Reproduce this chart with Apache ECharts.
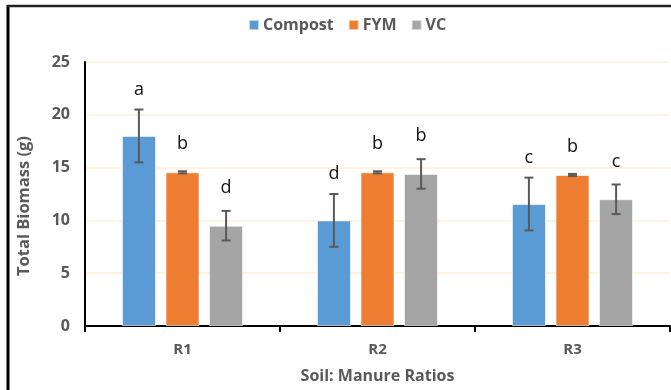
<!DOCTYPE html>
<html>
<head>
<meta charset="utf-8">
<style>
  html, body { margin: 0; padding: 0; background: #fff; }
  #chart { width: 671px; height: 390px; }
</style>
<script src="https://cdn.jsdelivr.net/npm/echarts@6/dist/echarts.min.js"></script>
</head>
<body>
<div id="chart"></div>
<script>
// Total biomass by soil:manure ratio and manure type
const categories = ['R1', 'R2', 'R3'];
const seriesNames = ['Compost', 'FYM', 'VC'];
const compost = [18.0, 10.0, 11.55];
const fym = [14.55, 14.55, 14.3];
const vc = [9.5, 14.4, 12.0];
const compostErr = [2.5, 2.5, 2.5];
const fymErr = [0.1, 0.1, 0.1];
const vcErr = [1.4, 1.4, 1.4];
const compostLetters = ['a', 'd', 'c'];
const fymLetters = ['b', 'b', 'b'];
const vcLetters = ['d', 'b', 'c'];
const yTicks = [0, 5, 10, 15, 20, 25];

const values = [compost, fym, vc];
const errors = [compostErr, fymErr, vcErr];
const letters = [compostLetters, fymLetters, vcLetters];
const colors = ['#5B9BD5', '#ED7D31', '#A5A5A5'];
const letterLift = [20, 27, 23];

const BAR_W = 34;
const BAR_STEP = 43.6;
const FONT = '"Open Sans", "Noto Sans", sans-serif';
const GREY = '#595959';

const chart = echarts.init(document.getElementById('chart'), null, { renderer: 'canvas' });

const barSeries = seriesNames.map((name, i) => ({
  name: name,
  type: 'bar',
  data: values[i],
  barWidth: BAR_W,
  barGap: '28%',
  itemStyle: { color: colors[i], borderColor: 'rgba(255,255,255,0.6)', borderWidth: 1 },
  z: 2
}));

// error bars and significance letters, placed on each bar's center
const errSeries = seriesNames.map((name, i) => ({
  name: name + ' err',
  type: 'custom',
  z: 5,
  silent: true,
  data: categories.map((c, k) => [k, values[i][k], errors[i][k]]),
  renderItem: function (params, api) {
    const k = api.value(0);
    const v = api.value(1);
    const e = api.value(2);
    const letter = letters[i][k];
    const dx = (i - 1) * BAR_STEP;
    const top = api.coord([k, v + e]);
    const bot = api.coord([k, v - e]);
    const x = top[0] + dx;
    const cap = 4.5;
    const st = { stroke: GREY, lineWidth: 2 };
    return {
      type: 'group',
      children: [
        { type: 'line', shape: { x1: x, y1: top[1], x2: x, y2: bot[1] }, style: st },
        { type: 'line', shape: { x1: x - cap, y1: top[1], x2: x + cap, y2: top[1] }, style: st },
        { type: 'line', shape: { x1: x - cap, y1: bot[1], x2: x + cap, y2: bot[1] }, style: st },
        {
          type: 'text',
          style: {
            x: x, y: top[1] - letterLift[i],
            text: letter,
            fill: '#111',
            font: '18px ' + FONT,
            align: 'center',
            verticalAlign: 'middle'
          }
        }
      ]
    };
  }
}));

const option = {
  backgroundColor: '#fff',
  animation: false,
  color: colors,
  legend: {
    data: seriesNames,
    left: 243,
    top: 12,
    itemWidth: 10,
    itemHeight: 10,
    itemGap: 14,
    icon: 'rect',
    textStyle: { color: GREY, fontFamily: FONT, fontWeight: 'bold', fontSize: 16, padding: [0, 0, 0, -1] }
  },
  grid: { left: 85, right: 1, top: 62, bottom: 64 },
  xAxis: {
    type: 'category',
    data: categories,
    name: 'Soil: Manure Ratios',
    nameLocation: 'middle',
    nameGap: 42,
    nameTextStyle: { color: GREY, fontFamily: FONT, fontWeight: 'bold', fontSize: 16 },
    axisLine: { lineStyle: { color: '#000', width: 2 } },
    axisTick: { show: true, length: 6, lineStyle: { color: '#000', width: 2 } },
    axisLabel: { color: GREY, fontFamily: FONT, fontWeight: 'bold', fontSize: 15, margin: 16 }
  },
  yAxis: {
    type: 'value',
    min: yTicks[0],
    max: yTicks[yTicks.length - 1],
    interval: 5,
    name: 'Total Biomass (g)',
    nameLocation: 'middle',
    nameGap: 52,
    nameTextStyle: { color: GREY, fontFamily: FONT, fontWeight: 'bold', fontSize: 16.5, padding: [0, 24, 0, 0] },
    axisLine: { show: true, lineStyle: { color: '#000', width: 2 } },
    axisTick: { show: false },
    axisLabel: { color: GREY, fontFamily: FONT, fontWeight: 'bold', fontSize: 16, margin: 15 },
    splitLine: { show: true, lineStyle: { color: '#FDEFD6', width: 1.5 } }
  },
  graphic: [
    { type: 'line', shape: { x1: 8, y1: 5, x2: 8, y2: 390 }, style: { stroke: '#000', lineWidth: 3 }, silent: true },
    { type: 'line', shape: { x1: 7, y1: 6, x2: 671, y2: 6 }, style: { stroke: '#222', lineWidth: 2.5 }, silent: true }
  ],
  series: barSeries.concat(errSeries)
};

chart.setOption(option);
</script>
</body>
</html>
